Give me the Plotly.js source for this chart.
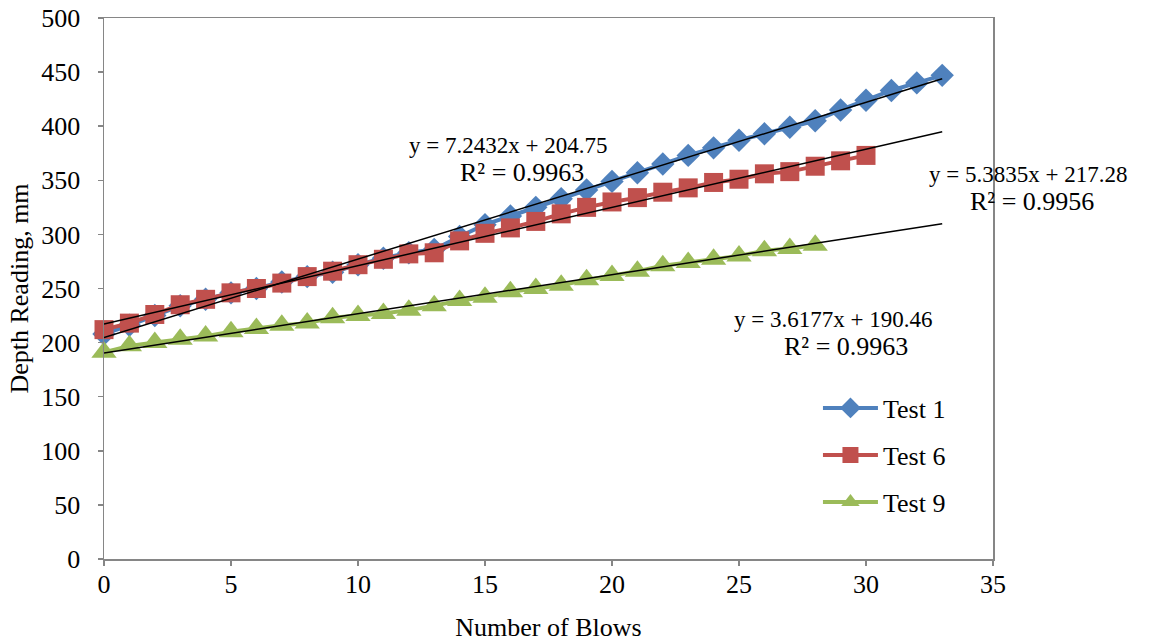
<!DOCTYPE html>
<html>
<head>
<meta charset="utf-8">
<script src="https://cdn.plot.ly/plotly-3.0.1.min.js"></script>
<style>
  html, body { margin: 0; padding: 0; background: #ffffff; }
  #chart { width: 1156px; height: 644px; }
</style>
</head>
<body>
<div id="chart"></div>
<script>
// Penetration depth readings against blow count for three tests
const blowsTest1 = [0,1,2,3,4,5,6,7,8,9,10,11,12,13,14,15,16,17,18,19,20,21,22,23,24,25,26,27,28,29,30,31,32,33];
const depthTest1 = [208,216,225,234,240,246,250,256,261,265,272,278,283,286,298,309,317,325,333,341,349,357,365,373,380,387,393,399,405,415,424,433,440,447];

const blowsTest6 = [0,1,2,3,4,5,6,7,8,9,10,11,12,13,14,15,16,17,18,19,20,21,22,23,24,25,26,27,28,29,30];
const depthTest6 = [212,218,226,235,240,246,250,255,261,266,272,277,282,283,294,301,306,312,319,325,330,334,339,343,348,351,356,358,363,368,373];

const blowsTest9 = [0,1,2,3,4,5,6,7,8,9,10,11,12,13,14,15,16,17,18,19,20,21,22,23,24,25,26,27,28];
const depthTest9 = [191,197,200,203,206,210,213,216,218,223,225,227,230,234,239,242,247,250,253,258,262,266,271,274,277,280,285,287,290];

// Linear trend lines (slope, intercept, R²) for each test
const seriesNames = ["Test 1", "Test 6", "Test 9"];
const trendSlope = [7.2432, 5.3835, 3.6177];
const trendIntercept = [204.75, 217.28, 190.46];
const trendR2 = ["0.9963", "0.9956", "0.9963"];
const trendRange = [0, 33];

const xTicks = [0, 5, 10, 15, 20, 25, 30, 35];
const yTicks = [0, 50, 100, 150, 200, 250, 300, 350, 400, 450, 500];

const colors = ["#4F81BD", "#C0504D", "#9BBB59"];
const symbols = ["diamond", "square", "triangle-up"];
const markerSizes = [18, 19, 22];
const legendIds = ["legend", "legend2", "legend3"];
const FONT = "Liberation Serif, Times New Roman, serif";

const xs = [blowsTest1, blowsTest6, blowsTest9];
const ys = [depthTest1, depthTest6, depthTest9];

const traces = [];
for (let i = 0; i < 3; i++) {
  traces.push({
    type: "scatter",
    mode: "lines+markers",
    name: seriesNames[i],
    x: xs[i],
    y: ys[i],
    line: { color: colors[i], width: 4 },
    marker: { color: colors[i], symbol: symbols[i], size: markerSizes[i], line: { width: 0 } },
    legend: legendIds[i],
    cliponaxis: false
  });
}
for (let i = 0; i < 3; i++) {
  traces.push({
    type: "scatter",
    mode: "lines",
    x: trendRange,
    y: trendRange.map(v => trendSlope[i] * v + trendIntercept[i]),
    line: { color: "#000000", width: 1.5 },
    showlegend: false,
    hoverinfo: "skip"
  });
}

function eqText(i) {
  return "y = " + trendSlope[i].toFixed(4) + "x + " + trendIntercept[i].toFixed(2);
}

// Equation label positions in paper units
const eqPos = [[0.4544, 0.7652], [1.0394, 0.7098], [0.8200, 0.4418]];
const r2Pos = [[0.4702, 0.7153], [1.0439, 0.6599], [0.8346, 0.3919]];

const annotations = [];
for (let i = 0; i < 3; i++) {
  annotations.push({
    xref: "paper", yref: "paper", x: eqPos[i][0], y: eqPos[i][1],
    text: eqText(i), showarrow: false,
    font: { family: FONT, size: 23, color: "#000000" },
    xanchor: "center", yanchor: "middle"
  });
  annotations.push({
    xref: "paper", yref: "paper", x: r2Pos[i][0], y: r2Pos[i][1],
    text: "R² = " + trendR2[i], showarrow: false,
    font: { family: FONT, size: 26, color: "#000000" },
    xanchor: "center", yanchor: "middle"
  });
}

const legendBase = {
  x: 0.8031, xanchor: "left", yanchor: "middle",
  itemwidth: 55,
  bgcolor: "rgba(0,0,0,0)", borderwidth: 0,
  font: { family: FONT, size: 26, color: "#000000" }
};
const legendY = [0.279, 0.192, 0.105];

const axisCommon = {
  showgrid: false,
  zeroline: false,
  showline: true,
  linecolor: "#868686",
  linewidth: 1.5,
  mirror: true,
  ticks: "outside",
  ticklen: 5,
  tickwidth: 1.5,
  tickcolor: "#868686",
  tickfont: { family: FONT, size: 26, color: "#000000" }
};

const layout = {
  width: 1156,
  height: 644,
  margin: { l: 104, r: 163, t: 18, b: 85 },
  paper_bgcolor: "#ffffff",
  plot_bgcolor: "#ffffff",
  showlegend: true,
  xaxis: Object.assign({}, axisCommon, {
    range: [0, 35],
    tickvals: xTicks,
    ticktext: xTicks.map(String),
    ticklabelstandoff: -4,
    title: { text: "Number of Blows", font: { family: FONT, size: 26, color: "#000000" }, standoff: 20 }
  }),
  yaxis: Object.assign({}, axisCommon, {
    range: [0, 500],
    tickvals: yTicks,
    ticktext: yTicks.map(String),
    ticklabelstandoff: 12,
    title: { text: "Depth Reading, mm", font: { family: FONT, size: 26, color: "#000000" }, standoff: 5 }
  }),
  legend: Object.assign({}, legendBase, { y: legendY[0] }),
  legend2: Object.assign({}, legendBase, { y: legendY[1] }),
  legend3: Object.assign({}, legendBase, { y: legendY[2] }),
  annotations: annotations
};

Plotly.newPlot("chart", traces, layout, { displayModeBar: false, staticPlot: true });
</script>
</body>
</html>
